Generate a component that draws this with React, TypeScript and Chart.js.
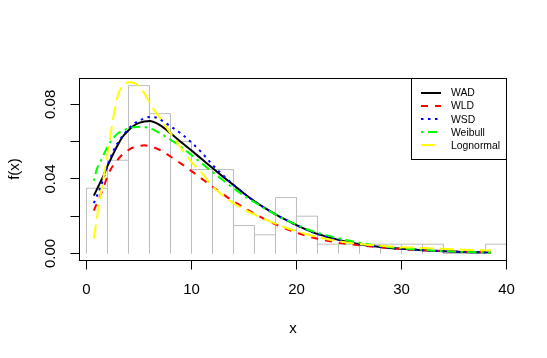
import React, { useEffect, useRef } from 'react';
import { Chart, registerables } from 'chart.js';

Chart.register(...registerables);

// ---- data ----
const binEdges = [0, 2, 4, 6, 8, 10, 12, 14, 16, 18, 20, 22, 24, 26, 28, 30, 32, 34, 36, 38, 40];
const binDensity = [0.035, 0.05, 0.09, 0.075, 0.06, 0.045, 0.045, 0.015, 0.01, 0.03, 0.02, 0.005, 0.005, 0.005, 0.005, 0.005, 0.005, 0, 0, 0.005];

const xGrid = [0.7, 1, 1.3, 1.6, 2, 2.3, 2.6, 3, 3.5, 4, 4.5, 5, 5.5, 6, 6.5, 7, 8, 9, 10, 11, 12, 13, 14, 15, 16, 17, 18, 19, 20, 21, 22, 24, 26, 28, 30, 32, 34, 36, 38.5];

const wad = [0.031, 0.0345, 0.038, 0.0415, 0.047, 0.0505, 0.054, 0.0585, 0.063, 0.066, 0.0685, 0.07, 0.0708, 0.0711, 0.0703, 0.0688, 0.0645, 0.0598, 0.0552, 0.0505, 0.0458, 0.0412, 0.0367, 0.0322, 0.028, 0.0243, 0.021, 0.018, 0.0152, 0.0127, 0.0105, 0.0073, 0.005, 0.0035, 0.0025, 0.0018, 0.0012, 0.0008, 0.0006];
const wld = [0.023, 0.027, 0.031, 0.035, 0.0415, 0.045, 0.0478, 0.0505, 0.0535, 0.0555, 0.057, 0.0577, 0.058, 0.0576, 0.0567, 0.0555, 0.052, 0.0482, 0.0442, 0.04, 0.0358, 0.0318, 0.028, 0.0245, 0.0213, 0.0183, 0.0156, 0.0132, 0.0112, 0.0093, 0.0079, 0.0058, 0.0044, 0.0033, 0.0024, 0.0018, 0.0014, 0.001, 0.0007];
const wsd = [0.027, 0.031, 0.035, 0.04, 0.047, 0.0515, 0.0555, 0.0595, 0.0635, 0.0668, 0.0695, 0.0712, 0.0724, 0.0732, 0.0731, 0.0718, 0.0682, 0.0643, 0.0595, 0.054, 0.0475, 0.042, 0.0368, 0.0322, 0.028, 0.0243, 0.021, 0.018, 0.0152, 0.0127, 0.0105, 0.0073, 0.005, 0.0035, 0.0025, 0.0018, 0.0012, 0.0008, 0.0006];
const weibull = [0.039, 0.0455, 0.049, 0.0525, 0.0572, 0.06, 0.0622, 0.0645, 0.066, 0.0671, 0.0677, 0.0679, 0.0678, 0.0672, 0.066, 0.0645, 0.061, 0.0572, 0.0528, 0.0482, 0.0437, 0.0393, 0.035, 0.031, 0.0275, 0.024, 0.021, 0.018, 0.0155, 0.013, 0.0112, 0.0082, 0.0058, 0.004, 0.0028, 0.002, 0.0013, 0.0009, 0.0005];
const lognormal = [0.008, 0.0195, 0.03, 0.04, 0.053, 0.064, 0.0745, 0.085, 0.09, 0.0918, 0.0915, 0.0898, 0.086, 0.081, 0.0765, 0.0725, 0.0645, 0.0565, 0.049, 0.043, 0.036, 0.031, 0.027, 0.0237, 0.0208, 0.0183, 0.016, 0.0138, 0.012, 0.0103, 0.0088, 0.0066, 0.0051, 0.0041, 0.0034, 0.003, 0.0025, 0.002, 0.0016];

const seriesNames = ['WAD', 'WLD', 'WSD', 'Weibull', 'Lognormal'];
const seriesValues = [wad, wld, wsd, weibull, lognormal];

const xTicks = [0, 10, 20, 30, 40];
const xTickLabels = ['0', '10', '20', '30', '40'];
const yTicks = [0, 0.02, 0.04, 0.06, 0.08];
const yTickLabels = ['0.00', '0.02', '0.04', '0.06', '0.08'];
const xTitle = 'x';
const yTitle = 'f(x)';

// ---- styles ----
const seriesColors = ['#000000', '#FF0000', '#0000FF', '#00FF00', '#FFFF00'];
const seriesDash: number[][] = [[], [7, 7], [2.5, 4.5], [2.5, 4.5, 9, 4.5], [14, 6]];
const FONT = '"Liberation Sans", Arial, sans-serif';

const rAxesPlugin = {
  id: 'rAxes',
  afterDraw(chart: any) {
    const { ctx, chartArea } = chart;
    const xs = chart.scales.x;
    const ys = chart.scales.y;
    const snap = (v: number) => Math.round(v - 0.5) + 0.5;
    ctx.save();
    ctx.setLineDash([]);
    ctx.strokeStyle = '#000';
    ctx.lineWidth = 1;
    // box
    ctx.strokeRect(chartArea.left + 0.5, chartArea.top + 0.5, chartArea.right - chartArea.left - 1, chartArea.bottom - chartArea.top);
    const axisY = chartArea.bottom + 0.5;
    const axisX = chartArea.left + 0.5;
    const tickLen = 9;
    // x axis ticks
    ctx.beginPath();
    xTicks.forEach((v) => {
      const px = snap(xs.getPixelForValue(v));
      ctx.moveTo(px, axisY);
      ctx.lineTo(px, axisY + tickLen);
    });
    ctx.stroke();
    ctx.fillStyle = '#000';
    ctx.font = `15px ${FONT}`;
    ctx.textAlign = 'center';
    ctx.textBaseline = 'alphabetic';
    xTicks.forEach((v, i) => {
      ctx.fillText(xTickLabels[i], xs.getPixelForValue(v), 294);
    });
    // y axis ticks
    ctx.beginPath();
    yTicks.forEach((v) => {
      const py = snap(ys.getPixelForValue(v));
      ctx.moveTo(axisX, py);
      ctx.lineTo(axisX - tickLen, py);
    });
    ctx.stroke();
    // y labels rotated, skipping overlapping ones like R
    let lastEdge = Infinity;
    const gap = 15;
    yTicks.forEach((v, i) => {
      const py = ys.getPixelForValue(v);
      const w = ctx.measureText(yTickLabels[i]).width;
      const lo = py + w / 2;
      const hi = py - w / 2;
      if (lo + gap > lastEdge) return;
      lastEdge = hi;
      ctx.save();
      ctx.translate(50.5, py);
      ctx.rotate(-Math.PI / 2);
      ctx.textAlign = 'center';
      ctx.textBaseline = 'middle';
      ctx.fillText(yTickLabels[i], 0, 0);
      ctx.restore();
    });
    // titles
    ctx.textAlign = 'center';
    ctx.textBaseline = 'alphabetic';
    ctx.fillText(xTitle, (chartArea.left + chartArea.right) / 2, 333);
    ctx.save();
    ctx.translate(14.5, (chartArea.top + chartArea.bottom) / 2);
    ctx.rotate(-Math.PI / 2);
    ctx.textBaseline = 'middle';
    ctx.fillText(yTitle, 0, 0);
    ctx.restore();

    // legend
    const lx = 411.5, ly = chartArea.top + 0.5, lw = chartArea.right - 0.5 - 411.5, lh = 81;
    ctx.fillStyle = '#fff';
    ctx.fillRect(lx, ly, lw, lh);
    ctx.strokeStyle = '#000';
    ctx.strokeRect(lx, ly, lw, lh);
    ctx.font = `10.4px ${FONT}`;
    ctx.textAlign = 'left';
    ctx.textBaseline = 'middle';
    seriesNames.forEach((name, i) => {
      const yy = 93 + i * 13.1;
      ctx.beginPath();
      ctx.strokeStyle = seriesColors[i];
      ctx.lineWidth = 2;
      ctx.lineCap = 'butt';
      ctx.setLineDash(seriesDash[i]);
      ctx.moveTo(421, Math.round(yy));
      ctx.lineTo(441, Math.round(yy));
      ctx.stroke();
      ctx.setLineDash([]);
      ctx.fillStyle = '#000';
      ctx.fillText(name, 451, yy + 0.5);
    });
    ctx.restore();
  },
};

export default function App() {
  const ref = useRef<HTMLCanvasElement | null>(null);
  useEffect(() => {
    document.body.style.margin = '0';
    const canvas = ref.current;
    if (!canvas) return;
    const histPts: { x: number; y: number }[] = [];
    binDensity.forEach((d, i) => {
      histPts.push({ x: binEdges[i], y: 0 });
      histPts.push({ x: binEdges[i], y: d });
      histPts.push({ x: binEdges[i + 1], y: d });
      histPts.push({ x: binEdges[i + 1], y: 0 });
    });
    const datasets: any[] = [
      {
        label: 'hist',
        data: histPts,
        borderColor: '#BEBEBE',
        borderWidth: 1,
        pointRadius: 0,
        tension: 0,
        fill: false,
        order: 10,
      },
    ];
    seriesNames.forEach((name, i) => {
      datasets.push({
        label: name,
        data: xGrid.map((x, j) => ({ x, y: seriesValues[i][j] })),
        borderColor: seriesColors[i],
        borderWidth: 2,
        borderDash: seriesDash[i],
        borderCapStyle: 'butt',
        pointRadius: 0,
        cubicInterpolationMode: 'monotone',
        fill: false,
        order: 5 - i,
      });
    });
    const chart = new Chart(canvas, {
      type: 'line',
      data: { datasets },
      options: {
        responsive: false,
        animation: false,
        devicePixelRatio: 1,
        layout: { padding: { left: 79, right: 40, top: 78, bottom: 98 } },
        plugins: { legend: { display: false }, tooltip: { enabled: false } },
        scales: {
          x: { type: 'linear', min: -0.714, max: 40.048, display: false },
          y: { type: 'linear', min: -0.003485, max: 0.0941, display: false },
        },
      },
      plugins: [rAxesPlugin],
    } as any);
    return () => chart.destroy();
  }, []);
  return (
    <div style={{ width: 547, height: 358, background: '#fff' }}>
      <canvas ref={ref} width={547} height={358} style={{ display: 'block' }} />
    </div>
  );
}
